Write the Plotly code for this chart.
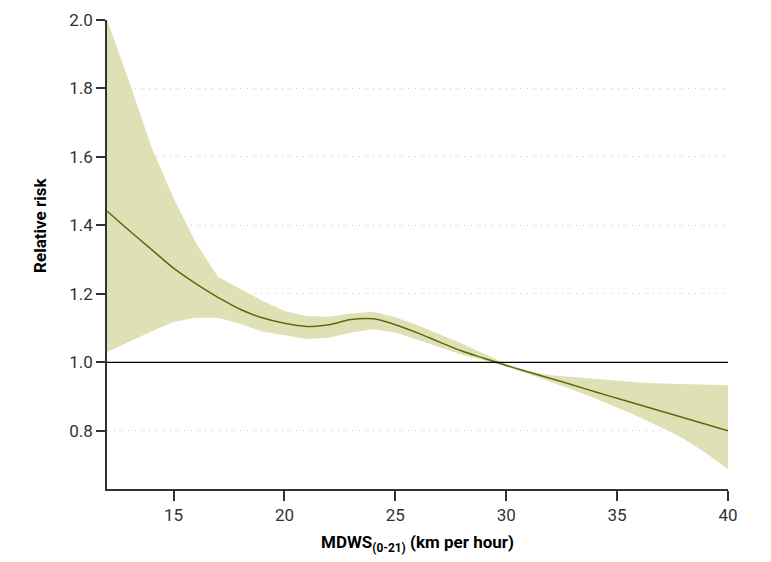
import plotly.graph_objects as go

wind_speed = [12, 13, 14, 15, 16, 17, 18, 19, 20, 21, 22, 23, 24, 25, 26,
              27, 28, 29, 30, 31, 32, 33, 34, 35, 36, 37, 38, 39, 40]
relative_risk = [1.442, 1.385, 1.33, 1.275, 1.23, 1.19, 1.155, 1.13, 1.114, 1.105,
                 1.11, 1.125, 1.127, 1.11, 1.086, 1.059, 1.033, 1.012, 0.991,
                 0.972, 0.953, 0.934, 0.914, 0.895, 0.876, 0.857, 0.838, 0.819, 0.80]
ci_upper = [2.0, 1.82, 1.63, 1.48, 1.35, 1.25, 1.215, 1.18, 1.15, 1.135,
            1.133, 1.143, 1.148, 1.132, 1.108, 1.082, 1.055, 1.025, 0.995,
            0.975, 0.962, 0.957, 0.951, 0.945, 0.941, 0.938, 0.936, 0.934, 0.933]
ci_lower = [1.03, 1.06, 1.09, 1.118, 1.13, 1.13, 1.113, 1.09, 1.078, 1.068,
            1.072, 1.087, 1.097, 1.087, 1.066, 1.045, 1.022, 1.006, 0.987,
            0.966, 0.944, 0.92, 0.895, 0.868, 0.84, 0.81, 0.777, 0.735, 0.688]
y_ticks = [0.8, 1.0, 1.2, 1.4, 1.6, 1.8, 2.0]
y_tick_labels = ["0.8", "1.0", "1.2", "1.4", "1.6", "1.8", "2.0"]
x_ticks = [15, 20, 25, 30, 35, 40]

FONT = "Roboto, sans-serif"

fig = go.Figure()
fig.add_trace(go.Scatter(
    x=wind_speed + wind_speed[::-1],
    y=ci_upper + ci_lower[::-1],
    fill="toself", fillcolor="rgb(223,224,182)",
    line=dict(width=0), mode="lines", hoverinfo="skip", showlegend=False,
))
fig.add_trace(go.Scatter(
    x=wind_speed, y=relative_risk, mode="lines",
    line=dict(color="rgb(95,105,10)", width=1.5, shape="spline"),
    showlegend=False,
))
fig.add_shape(type="line", xref="x", yref="y", x0=12, x1=40, y0=1.0, y1=1.0,
              line=dict(color="black", width=1.2), layer="above")

fig.update_layout(
    width=763, height=554,
    margin=dict(l=99, r=43, t=12, b=73, autoexpand=False),
    paper_bgcolor="white", plot_bgcolor="white",
    font=dict(family=FONT, size=17, color="#333"),
    xaxis=dict(
        range=[12, 40], tickvals=x_ticks, ticks="outside", ticklen=10,
        tickcolor="#333", tickwidth=1.5, showgrid=False, zeroline=False,
        showline=True, linecolor="#333", linewidth=1.5, automargin=False,
        title=dict(text="<b>MDWS<sub>(0-21)</sub> (km per hour)</b>",
                   font=dict(family=FONT, size=17, color="black"), standoff=12),
    ),
    yaxis=dict(
        range=[0.63, 2.0], tickvals=y_ticks, ticktext=y_tick_labels,
        ticks="outside", ticklen=9, tickcolor="#333", tickwidth=1.5,
        showgrid=True, gridcolor="#c4c4c4", griddash="1px,6px", gridwidth=1,
        zeroline=False, showline=True, linecolor="#333", linewidth=1.5,
        automargin=False, title=None,
    ),
    annotations=[dict(
        text="<b>Relative risk</b>", textangle=-90, xref="paper", yref="paper",
        x=-0.108, y=0.563, xanchor="center", yanchor="middle", showarrow=False,
        font=dict(family=FONT, size=17, color="black"),
    )],
)

fig.write_html("out.html")
